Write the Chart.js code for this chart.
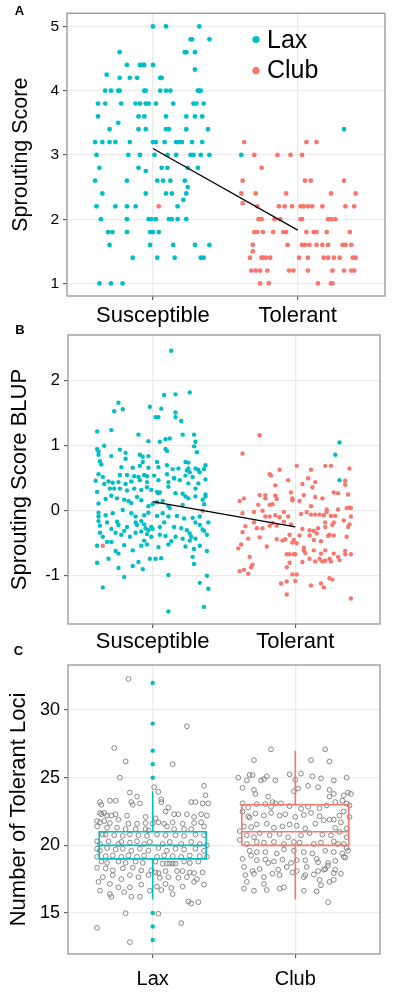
<!DOCTYPE html>
<html><head><meta charset="utf-8">
<script src="https://cdn.jsdelivr.net/npm/chart.js@4.4.1/dist/chart.umd.min.js"></script>
<style>
html,body{margin:0;padding:0;background:#fff;}
body{width:393px;height:995px;position:relative;overflow:hidden;}
canvas{position:absolute;left:0;}
</style></head><body>
<canvas id="cA" width="393" height="330" style="top:0px"></canvas>
<canvas id="cB" width="393" height="342" style="top:318px"></canvas>
<canvas id="cC" width="393" height="357" style="top:638px"></canvas>
<script>
// ---------- categories & ticks ----------
const phenoCats = ["Susceptible", "Tolerant"];
const typeCats = ["Lax", "Club"];
const seriesNames = ["Lax", "Club"];
const yTicksA = [1, 2, 3, 4, 5];
const yTicksB = [-1, 0, 1, 2];
const yTicksC = [15, 20, 25, 30];

// ---------- Panel A: Sprouting Score (x = category position incl. jitter) ----------
const laxScoreA = [
[1.00,5],[1.09,5],[1.32,5],
[1.26,4.8],[1.27,4.8],[1.39,4.8],
[0.77,4.6],[1.22,4.6],[1.23,4.6],[1.29,4.6],
[0.82,4.4],[0.91,4.4],[0.93,4.4],[0.94,4.4],[1.00,4.4],
[1.29,4.33],[0.68,4.25],
[0.77,4.2],[0.84,4.2],[0.89,4.2],[1.05,4.2],[1.06,4.2],
[0.67,4],[0.71,4],[0.76,4],[0.77,4],[0.94,4],[0.95,4],[1.05,4],[1.09,4],[1.12,4],[1.31,4],[1.32,4],[1.33,4],
[0.62,3.8],[0.67,3.8],[0.78,3.8],[0.88,3.8],[0.91,3.8],[0.95,3.8],[0.97,3.8],[1.02,3.8],[1.14,3.8],[1.28,3.8],[1.30,3.8],[1.35,3.8],
[0.62,3.6],[0.90,3.6],[0.94,3.6],[1.09,3.6],[1.23,3.6],[1.29,3.6],[1.34,3.6],
[0.76,3.5],
[0.70,3.4],[0.90,3.4],[0.95,3.4],[1.09,3.4],[1.11,3.4],[1.23,3.4],[1.38,3.4],
[0.60,3.2],[0.65,3.2],[0.70,3.2],[0.74,3.2],[0.84,3.2],[1.00,3.2],[1.02,3.2],[1.08,3.2],[1.16,3.2],[1.18,3.2],[1.20,3.2],[1.27,3.2],[1.34,3.2],
[0.61,3],[0.83,3],[0.91,3],[1.01,3],[1.10,3],[1.16,3],[1.26,3],[1.28,3],[1.33,3],[1.39,3],
[0.63,2.8],[0.90,2.8],[1.06,2.8],[1.10,2.8],[1.24,2.8],[1.31,2.8],
[0.95,2.75],
[0.60,2.6],[0.82,2.6],[1.03,2.6],[1.07,2.6],[1.12,2.6],[1.22,2.6],
[1.24,2.5],
[0.65,2.4],[0.95,2.4],[1.09,2.4],[1.13,2.4],[1.23,2.4],
[1.21,2.3],
[0.61,2.2],[0.74,2.2],[0.82,2.2],[0.88,2.2],[1.17,2.2],
[0.64,2],[0.82,2],[0.97,2],[0.99,2],[1.02,2],[1.11,2],[1.13,2],[1.17,2],[1.23,2],
[0.69,1.8],[0.72,1.8],[0.82,1.8],[0.98,1.8],[1.00,1.8],[1.04,1.8],
[0.70,1.6],[0.98,1.6],[1.14,1.6],[1.29,1.6],[1.39,1.6],
[0.86,1.4],[1.03,1.4],[1.15,1.4],[1.33,1.4],[1.35,1.4],
[0.63,1],[0.71,1],[0.79,1],
[2.32,3.4],[1.61,3.0]
];
const clubScoreA = [
[1.63,3.2],[2.06,3.2],[2.13,3.2],
[1.70,3],[1.86,3],[1.95,3],[2.03,3],
[1.75,2.8],
[1.62,2.6],[2.05,2.6],[2.09,2.6],[2.32,2.6],
[1.61,2.4],[1.71,2.4],[1.92,2.4],[2.23,2.4],[2.40,2.4],
[1.62,2.25],
[1.72,2.2],[1.87,2.2],[1.91,2.2],[1.96,2.2],[2.02,2.2],[2.04,2.2],[2.07,2.2],[2.10,2.2],[2.17,2.2],[2.33,2.2],[2.39,2.2],
[1.73,2],[1.75,2],[1.84,2],[1.88,2],[2.02,2],[2.03,2],[2.21,2],[2.23,2],[2.26,2],
[1.70,1.8],[1.72,1.8],[1.76,1.8],[1.83,1.8],[1.90,1.8],[1.92,1.8],[2.06,1.8],[2.11,1.8],[2.13,1.8],[2.20,1.8],[2.36,1.8],
[1.69,1.6],[1.93,1.6],[2.03,1.6],[2.05,1.6],[2.08,1.6],[2.13,1.6],[2.17,1.6],[2.21,1.6],[2.31,1.6],[2.33,1.6],[2.37,1.6],
[1.69,1.5],
[1.67,1.4],[1.75,1.4],[1.76,1.4],[1.78,1.4],[1.81,1.4],[2.01,1.4],[2.07,1.4],[2.18,1.4],[2.21,1.4],[2.25,1.4],[2.29,1.4],[2.38,1.4],[2.40,1.4],
[1.68,1.2],[1.71,1.2],[1.74,1.2],[1.79,1.2],[1.94,1.2],[1.97,1.2],[2.07,1.2],[2.24,1.2],[2.32,1.2],[2.37,1.2],[2.39,1.2],
[1.74,1],[1.80,1],[2.14,1],[2.23,1],[2.24,1],
[1.04,2.2]
];
const meanLineA = [3.10, 1.83];   // group means: Susceptible, Tolerant

// ---------- Panel B: Sprouting Score BLUP ----------
const laxBlupB = [
[1.13,2.46],[1.26,1.82],[1.16,1.79],[1.08,1.78],[0.76,1.66],[0.73,1.53],[0.79,1.56],
[0.98,1.60],[1.06,1.57],[1.02,1.44],[1.04,1.44],[1.16,1.51],[1.16,1.44],[1.20,1.38],
[0.61,1.22],[0.71,1.24],[0.90,1.17],[1.21,1.17],[1.29,1.17],
[1.12,1.11],[1.09,1.10],[1.05,1.06],[0.97,1.07],[1.30,1.06],[1.29,0.99],
[0.66,1.00],[0.61,0.95],[0.62,0.91],[1.09,0.95],[1.10,0.92],
[0.77,0.94],[0.81,0.89],[0.62,0.86],[0.71,0.84],[0.91,0.86],[0.93,0.83],[0.97,0.84],[1.31,0.90],
[0.63,0.76],[0.64,0.71],[0.81,0.80],[0.93,0.75],[1.03,0.75],[1.23,0.75],[1.25,0.74],[1.37,0.70],[1.36,0.64],[1.10,0.70],
[0.78,0.67],[0.86,0.66],[0.91,0.69],[0.97,0.66],[1.04,0.67],[1.18,0.65],[1.25,0.65],[1.30,0.65],[1.32,0.63],[1.24,0.62],[1.14,0.64],
[0.62,0.56],[0.77,0.55],[0.82,0.55],[0.87,0.53],[0.90,0.52],[0.94,0.55],[0.96,0.53],[1.01,0.54],[1.10,0.56],[1.15,0.50],[1.23,0.54],[1.26,0.59],[1.33,0.59],[1.28,0.52],
[0.60,0.46],[0.65,0.52],[0.66,0.41],[0.69,0.45],[0.72,0.43],[0.76,0.44],[0.81,0.41],[0.85,0.45],[0.91,0.47],[0.96,0.44],[1.04,0.47],[1.11,0.44],[1.11,0.37],[1.15,0.50],[1.19,0.47],[1.25,0.42],[1.32,0.42],[1.37,0.48],
[0.61,0.29],[0.70,0.34],[0.73,0.34],[0.77,0.34],[0.82,0.31],[0.87,0.34],[0.92,0.32],[0.96,0.36],[0.99,0.32],[1.03,0.29],[1.04,0.27],[1.05,0.28],[1.16,0.27],[1.21,0.26],[1.23,0.22],[1.30,0.34],[1.37,0.25],
[0.62,0.11],[0.67,0.18],[0.71,0.23],[0.75,0.19],[0.80,0.17],[0.83,0.15],[0.85,0.12],[0.89,0.21],[0.92,0.16],[0.97,0.07],[1.00,0.10],[1.03,0.13],[1.07,0.15],[1.11,0.07],[1.12,0.04],[1.21,0.09],[1.25,0.19],[1.30,0.22],[1.35,0.17],[1.37,0.22],[1.36,0.10],
[0.62,-0.03],[0.62,-0.09],[0.67,-0.07],[0.72,-0.04],[0.79,0.01],[0.85,-0.04],[0.88,-0.09],[0.94,-0.07],[0.97,-0.03],[1.03,-0.08],[1.07,-0.04],[1.11,-0.09],[1.17,-0.08],[1.22,-0.12],[1.28,-0.11],[1.33,-0.09],[1.39,-0.18],
[0.62,-0.16],[0.63,-0.23],[0.68,-0.18],[0.75,-0.17],[0.76,-0.22],[0.82,-0.25],[0.88,-0.18],[0.89,-0.22],[0.92,-0.16],[0.94,-0.21],[0.95,-0.27],[0.97,-0.30],[0.99,-0.25],[1.00,-0.28],[1.05,-0.25],[1.08,-0.18],[1.15,-0.25],[1.20,-0.27],[1.24,-0.30],[1.26,-0.35],[1.33,-0.22],[1.35,-0.29],[1.36,-0.31],[1.30,-0.18],
[0.63,-0.34],[0.65,-0.40],[0.71,-0.28],[0.74,-0.34],[0.78,-0.37],[0.80,-0.31],[0.84,-0.40],[0.88,-0.34],[0.92,-0.32],[0.96,-0.36],[0.99,-0.40],[1.05,-0.37],[1.09,-0.39],[1.16,-0.40],[1.21,-0.43],[1.27,-0.40],[1.30,-0.43],[1.38,-0.37],
[0.61,-0.54],[0.68,-0.48],[0.71,-0.48],[0.74,-0.62],[0.76,-0.66],[0.80,-0.53],[0.86,-0.61],[0.92,-0.54],[0.94,-0.46],[0.96,-0.52],[1.04,-0.56],[1.11,-0.52],[1.13,-0.47],[1.23,-0.55],[1.26,-0.46],[1.29,-0.59],[1.33,-0.54],[1.38,-0.62],
[0.61,-0.80],[0.69,-0.74],[0.76,-0.88],[0.80,-1.02],[0.86,-0.85],[0.90,-0.79],[0.93,-0.90],[0.98,-0.74],[1.02,-0.74],[1.06,-0.73],[1.11,-0.99],[1.28,-0.71],[1.29,-0.82],[1.33,-1.11],[1.38,-1.00],[1.39,-1.20],[0.65,-1.18],[1.11,-1.55],[1.36,-1.48],
[2.31,1.05],[2.28,0.86],[2.31,0.47]
];
const clubBlupB = [
[1.75,1.16],[1.63,0.88],
[2.01,0.69],[2.11,0.63],[2.21,0.69],[2.25,0.69],[2.38,0.65],[1.89,0.63],[1.82,0.56],[1.83,0.54],
[1.95,0.47],[2.09,0.50],[2.14,0.44],[1.86,0.39],[2.05,0.41],[2.12,0.36],[2.35,0.46],[2.35,0.40],[2.27,0.28],[2.30,0.27],[2.37,0.25],
[1.61,0.15],[1.64,0.19],[1.75,0.24],[1.79,0.24],[1.79,0.19],[1.86,0.23],[1.87,0.18],[1.82,0.09],[1.84,0.10],[1.97,0.28],[1.98,0.19],[1.98,0.16],[2.03,0.15],[2.06,0.24],[2.11,0.07],[2.14,0.21],[2.19,0.19],[2.22,0.02],[2.22,-0.02],[2.30,0.02],[2.36,0.04],[2.38,0.05],
[1.63,-0.04],[1.74,0.09],[1.71,-0.02],[1.77,0],[1.79,-0.09],[1.82,-0.09],[1.86,-0.07],[1.92,-0.02],[1.89,-0.10],[1.95,-0.09],[2.04,-0.05],[2.08,-0.02],[2.11,-0.06],[2.14,-0.06],[2.17,-0.06],[2.20,-0.07],[2.25,-0.08],[2.28,-0.08],[2.34,-0.15],[2.39,-0.09],[2.39,0.04],
[1.65,-0.24],[1.71,-0.18],[1.73,-0.27],[1.77,-0.27],[1.82,-0.23],[1.84,-0.19],[1.87,-0.23],[1.92,-0.17],[1.97,-0.21],[2.05,-0.28],[2.10,-0.30],[2.13,-0.31],[2.16,-0.27],[2.15,-0.35],[2.21,-0.18],[2.21,-0.25],[2.26,-0.22],[2.27,-0.18],[2.37,-0.25],[2.38,-0.21],
[1.63,-0.33],[1.67,-0.43],[1.75,-0.41],[1.87,-0.44],[1.91,-0.46],[1.93,-0.44],[1.96,-0.37],[1.99,-0.45],[2.03,-0.38],[2.10,-0.38],[2.13,-0.45],[2.18,-0.47],[2.23,-0.39],[2.24,-0.37],[2.27,-0.38],[2.36,-0.40],
[1.60,-0.58],[1.62,-0.52],[1.80,-0.55],[1.98,-0.49],[2.01,-0.50],[2.06,-0.57],[2.06,-0.61],[2.07,-0.65],[2.13,-0.61],[2.18,-0.66],[2.21,-0.61],[2.27,-0.66],[2.30,-0.71],[2.35,-0.62],[2.35,-0.67],[2.39,-0.67],
[1.94,-0.67],[1.96,-0.67],[1.99,-0.67],[2.00,-0.67],[2.10,-0.74],[2.14,-0.78],[2.17,-0.74],[2.19,-0.78],[2.21,-0.77],[2.24,-0.74],[2.25,-0.78],[2.31,-0.76],[1.68,-0.71],[1.96,-0.80],[1.94,-0.87],[2.05,-0.79],
[1.61,-0.93],[1.64,-0.91],[1.70,-0.83],[1.69,-0.87],[1.67,-0.97],[1.98,-0.98],[2.01,-0.98],[1.90,-1.12],[1.94,-1.09],[2.00,-1.08],[2.11,-1.15],[2.18,-1.12],[2.20,-1.18],[2.24,-1.04],[2.26,-1.06],[1.94,-1.29],[2.39,-1.35],
[0.65,-0.54],[1.35,0.00]
];
const meanLineB = [0.14, -0.25];

// ---------- Panel C: Number of Tolerant Loci ----------
const laxLociC = [
[0.83,32.3],[0.73,27.2],[0.81,26.2],[1.14,26.0],[1.24,28.8],[0.77,25.0],[1.01,24.3],[1.04,23.95],[0.84,23.9],[0.89,23.6],[1.36,24.4],[1.37,23.7],
[0.63,23.2],[0.64,23.0],[0.70,23.3],[0.74,23.3],[0.85,23.2],[0.86,23.0],[0.91,23.1],[1.06,23.4],[1.06,23.2],[1.11,22.8],[1.15,22.3],[1.18,22.3],[1.27,23.2],[1.30,23.2],[1.35,23.1],[1.39,23.1],
[0.63,22.4],[0.64,22.3],[0.66,22.4],[0.68,22.2],[0.71,22.2],[0.74,22.3],[0.82,22.2],[0.95,22.1],[1.02,22.0],[1.09,22.5],[1.24,22.3],[1.29,22.1],[1.34,22.3],[1.38,22.2],
[0.61,21.8],[0.63,21.7],[0.66,21.8],[0.70,21.65],[0.76,21.9],[0.83,21.6],[0.89,21.6],[0.95,21.65],[1.00,21.6],[1.04,21.7],[1.08,21.6],[1.14,21.7],[1.21,21.6],[1.29,21.65],[1.34,21.7],
[0.61,21.4],[0.68,21.3],[0.75,21.3],[0.81,21.2],[0.88,21.2],[0.95,21.2],[0.97,21.1],[1.10,21.4],[1.15,21.2],[1.22,21.2],[1.27,21.2],[1.36,21.4],
[0.65,20.8],[0.67,20.8],[0.73,20.75],[0.79,20.7],[0.84,20.8],[0.90,20.75],[0.96,20.7],[1.03,20.8],[1.09,20.75],[1.16,20.75],[1.22,20.7],[1.30,20.8],[1.36,20.75],
[0.61,20.3],[0.63,20.1],[0.69,20.3],[0.76,20.1],[0.78,20.25],[0.84,20.2],[0.89,20.3],[0.94,20.1],[0.98,20.25],[1.07,20.1],[1.12,20.25],[1.20,20.1],[1.27,20.25],[1.33,20.1],[1.38,20.0],
[0.61,19.75],[0.63,19.6],[0.68,19.8],[0.74,19.7],[0.79,19.75],[0.85,19.6],[0.91,19.75],[0.97,19.6],[1.04,19.8],[1.10,19.6],[1.16,19.75],[1.22,19.7],[1.30,19.75],[1.36,19.6],
[0.61,19.15],[0.67,19.2],[0.72,19.25],[0.78,19.15],[0.83,19.25],[0.89,19.15],[0.94,19.25],[1.03,19.15],[1.08,19.25],[1.14,19.2],[1.20,19.15],[1.26,19.25],[1.33,19.2],[1.38,19.15],
[0.64,18.8],[0.68,18.7],[0.76,18.8],[0.81,18.7],[0.88,18.8],[0.93,18.7],[1.02,18.8],[1.07,18.65],[1.10,18.65],[1.12,18.65],[1.14,18.65],[1.16,18.65],[1.22,18.8],[1.26,18.7],[1.32,18.8],
[0.61,18.35],[0.67,18.3],[0.72,18.15],[0.79,18.3],[0.86,18.35],[0.92,18.15],[0.99,18.15],[1.02,18.0],[1.04,17.95],[1.09,18.1],[1.17,18.1],[1.21,18.1],[1.26,18.0],[1.29,17.95],[1.35,18.0],
[0.65,17.65],[0.72,17.8],[0.78,17.5],[0.84,17.8],[0.90,17.65],[0.97,17.8],[1.05,17.6],[1.11,17.65],[1.18,17.6],[1.24,17.65],[1.31,17.5],
[0.62,17.3],[0.70,17.15],[0.76,16.9],[0.84,16.9],[0.92,17.1],[1.03,16.95],[1.09,17.15],[1.13,16.85],[1.21,16.95],[1.29,17.3],[1.36,17.1],
[0.63,16.65],[0.70,16.4],[0.71,16.2],[0.80,16.55],[0.85,16.2],[0.91,16.2],[0.98,16.65],[1.06,16.7],[1.14,16.4],[1.25,15.85],[1.27,15.7],[1.32,15.8],
[0.81,14.99],[1.04,14.95],[1.20,14.25],[0.61,13.9],[0.84,12.85]
];
const clubLociC = [
[1.83,27.1],[2.21,27.1],[1.71,26.3],[2.11,26.3],[2.24,26.2],
[1.60,25.0],[1.66,24.8],[1.68,25.2],[1.70,25.2],[1.76,24.8],[1.78,24.9],[1.80,25.1],[1.86,24.8],[1.96,25.25],[2.00,24.85],[2.04,25.3],[2.12,25.1],[2.18,24.95],[2.27,24.8],[2.36,25.0],
[1.63,24.25],[1.71,24.1],[1.72,23.8],[1.81,23.6],[1.84,23.2],[1.86,23.1],[1.99,24.0],[2.02,24.2],[2.09,24.4],[2.16,24.3],[2.24,24.1],[2.24,23.6],[2.27,23.8],[2.34,23.7],[2.37,23.9],[2.39,23.8],
[1.63,23.1],[1.67,22.8],[1.73,23.05],[1.79,23.05],[1.83,22.85],[1.90,23.1],[1.96,22.9],[2.04,22.7],[2.09,22.85],[2.17,22.75],[2.22,22.95],[2.28,23.2],[2.33,23.3],[2.36,23.1],[2.38,22.95],
[1.63,22.5],[1.67,22.15],[1.68,22.05],[1.72,22.35],[1.78,22.2],[1.83,22.4],[1.89,22.2],[1.93,22.3],[2.00,22.1],[2.06,22.25],[2.11,22.4],[2.17,22.15],[2.24,21.9],[2.27,21.9],[2.31,22.2],[2.34,22.5],[2.38,22.1],
[1.64,21.4],[1.69,21.35],[1.73,21.55],[1.80,21.6],[1.85,21.3],[1.91,21.4],[1.96,21.55],[2.01,21.45],[2.07,21.25],[2.14,21.6],[2.20,21.85],[2.28,21.3],[2.32,21.7],[2.36,21.25],
[1.61,21.05],[1.66,20.75],[1.71,20.6],[1.75,20.9],[1.82,20.75],[1.89,20.85],[1.95,20.6],[2.04,20.75],[2.10,20.9],[2.19,20.8],[2.25,20.75],[2.31,21.0],[2.36,20.6],
[1.61,20.4],[1.66,20.1],[1.73,20.25],[1.78,20.2],[1.85,20.25],[1.92,20.1],[1.99,20.25],[2.03,20.2],[2.13,20.1],[2.18,20.2],[2.27,20.3],[2.30,20.1],[2.34,20.1],[2.36,19.8],
[1.68,19.6],[1.73,19.5],[1.79,19.5],[1.87,19.4],[1.92,19.7],[1.99,19.6],[2.06,19.5],[2.12,19.4],[2.21,19.6],[2.27,19.5],[2.33,19.4],[2.37,19.6],
[1.63,19.0],[1.69,19.25],[1.73,18.9],[1.79,18.95],[1.85,18.8],[1.91,18.95],[1.97,18.7],[2.01,18.9],[2.07,18.9],[2.15,19.0],[2.23,18.7],[2.28,18.85],[2.34,19.15],
[1.64,18.4],[1.70,18.1],[1.75,18.25],[1.81,18.7],[1.88,18.2],[1.94,18.4],[2.01,18.1],[2.08,18.4],[2.16,18.75],[2.21,18.25],[2.23,18.5],[2.28,18.2],[2.35,19.1],
[1.65,17.8],[1.71,17.9],[1.78,17.65],[1.84,17.9],[1.89,17.8],[1.98,18.0],[2.06,17.65],[2.13,17.85],[2.16,18.1],[2.20,18.2],[2.27,17.95],[2.32,17.9],
[1.66,17.3],[1.78,17.15],[1.92,16.9],[2.07,17.8],[2.17,17.45],[2.18,17.05],[2.24,17.3],[2.27,17.45],
[1.64,16.8],[1.71,16.65],[1.80,16.7],[1.89,16.8],[2.06,16.65],[2.23,15.8],[2.15,16.6]
];
// box statistics: [lower whisker, Q1, median, Q3, upper whisker]
const laxBox = [16, 19, 20, 21, 24];
const clubBox = [16, 20, 21, 23, 27];
const laxOutliers = [32, 29, 27, 26, 25, 15, 14, 13];

// ---------- styling ----------
const TEAL = '#00BFC4', SALMON = '#F8766D';
const FONT = "'Liberation Sans', Arial, Helvetica, sans-serif";
const GRID = '#EBEBEB';

const toXY = arr => arr.map(p => ({x: p[0], y: p[1]}));

const frameAndLabel = {
  id: 'frameAndLabel',
  afterDraw(chart, args, o) {
    const {ctx, chartArea: a} = chart;
    ctx.save();
    ctx.strokeStyle = '#9c9c9c';
    ctx.lineWidth = 1.4;
    ctx.strokeRect(a.left, a.top, a.right - a.left, a.bottom - a.top);
    ctx.fillStyle = '#000';
    ctx.font = 'bold 13px ' + FONT;
    ctx.textAlign = 'center';
    ctx.textBaseline = 'middle';
    ctx.fillText(o.letter, o.lx, o.ly);
    if (o.legend) {
      chart.data.datasets.forEach(ds => {
        const it = o.legend[ds.label];
        if (!it) return;
        ctx.fillStyle = ds.backgroundColor;
        ctx.beginPath(); ctx.arc(it.dx, it.dy, 3.6, 0, Math.PI * 2); ctx.fill();
        ctx.fillStyle = '#000';
        ctx.font = '25px ' + FONT;
        ctx.textAlign = 'left';
        ctx.fillText(ds.label, it.tx, it.ty);
      });
    }
    ctx.restore();
  }
};

function makeOptions(p) {
  return {
    responsive: false, animation: false, events: [],
    layout: {padding: {left: 0, top: p.padTop, right: p.padRight, bottom: 0}},
    plugins: {
      legend: {display: false}, tooltip: {enabled: false},
      frameAndLabel: {letter: p.letter, lx: p.lx, ly: p.ly, legend: p.legend}
    },
    scales: {
      x: {
        type: 'linear', min: p.xMin, max: p.xMax,
        afterFit: s => { s.height = p.xH; },
        afterBuildTicks: s => { s.ticks = p.xCats.map((c, i) => ({value: i + 1})); },
        ticks: {callback: (v, i) => p.xCats[i], font: {family: FONT, size: p.xFont}, color: '#000',
                padding: p.xPad, maxRotation: 0, autoSkip: false},
        grid: {color: GRID, lineWidth: 1.3, tickLength: 4, tickColor: '#444', tickWidth: 1},
        border: {display: false}
      },
      y: {
        type: 'linear', min: p.yMin, max: p.yMax,
        afterFit: s => { s.width = p.yW; },
        afterBuildTicks: s => { s.ticks = p.yTicks.map(v => ({value: v})); },
        ticks: {callback: v => String(v), font: {family: FONT, size: p.yFont}, color: '#000', padding: 4},
        grid: {color: GRID, lineWidth: 1.3, tickLength: 4, tickColor: '#444', tickWidth: 1},
        border: {display: false},
        title: {display: true, text: p.yTitle, font: {family: FONT, size: p.titleSize}, color: '#000',
                padding: {top: p.titlePad, bottom: 0}}
      }
    }
  };
}

function meanLine(vals) { return vals.map((v, i) => ({x: i + 1, y: v})); }

// ---------- Chart A ----------
new Chart(document.getElementById('cA'), {
  type: 'scatter',
  data: {datasets: [
    {label: 'mean', data: meanLine(meanLineA), showLine: true, borderColor: '#000', borderWidth: 1.2, pointRadius: 0, order: 0},
    {label: seriesNames[0], data: toXY(laxScoreA), backgroundColor: TEAL, borderWidth: 0, pointRadius: 2.4, order: 2},
    {label: seriesNames[1], data: toXY(clubScoreA), backgroundColor: SALMON, borderWidth: 0, pointRadius: 2.4, order: 1}
  ]},
  options: makeOptions({padTop: 10, padRight: 8, xH: 34, yW: 67, xMin: 0.406, xMax: 2.603, yMin: 0.805, yMax: 5.205,
    xCats: phenoCats, yTicks: yTicksA, xFont: 22, xPad: 3, yFont: 15.5, yTitle: 'Sprouting Score', titleSize: 21.5, titlePad: 8,
    letter: 'A', lx: 19.5, ly: 11,
    legend: {Lax: {dx: 256, dy: 39.5, tx: 267, ty: 41}, Club: {dx: 256, dy: 70.7, tx: 267, ty: 71}}}),
  plugins: [frameAndLabel]
});

// ---------- Chart B ----------
new Chart(document.getElementById('cB'), {
  type: 'scatter',
  data: {datasets: [
    {label: 'mean', data: meanLine(meanLineB), showLine: true, borderColor: '#000', borderWidth: 1.2, pointRadius: 0, order: 0},
    {label: seriesNames[0], data: toXY(laxBlupB), backgroundColor: TEAL, borderWidth: 0, pointRadius: 2.2, order: 2},
    {label: seriesNames[1], data: toXY(clubBlupB), backgroundColor: SALMON, borderWidth: 0, pointRadius: 2.2, order: 1}
  ]},
  options: makeOptions({padTop: 17, padRight: 13, xH: 36, yW: 68, xMin: 0.406, xMax: 2.594, yMin: -1.743, yMax: 2.703,
    xCats: phenoCats, yTicks: yTicksB, xFont: 22, xPad: 1, yFont: 16.5, yTitle: 'Sprouting Score BLUP', titleSize: 22, titlePad: 7,
    letter: 'B', lx: 20, ly: 12}),
  plugins: [frameAndLabel]
});

// ---------- Chart C ----------
const BOXW = 0.375;
function boxPath(cx, s) {
  return [
    {x: cx - BOXW, y: s[1]}, {x: cx + BOXW, y: s[1]}, {x: cx + BOXW, y: s[3]}, {x: cx - BOXW, y: s[3]}, {x: cx - BOXW, y: s[1]},
    {x: cx, y: null},
    {x: cx - BOXW, y: s[2]}, {x: cx + BOXW, y: s[2]},
    {x: cx, y: null},
    {x: cx, y: s[3]}, {x: cx, y: s[4]},
    {x: cx, y: null},
    {x: cx, y: s[1]}, {x: cx, y: s[0]}
  ];
}
new Chart(document.getElementById('cC'), {
  type: 'scatter',
  data: {datasets: [
    {label: 'Lax outliers', data: laxOutliers.map(v => ({x: 1, y: v})), backgroundColor: TEAL, borderWidth: 0, pointRadius: 2.2, order: 0},
    {label: 'Lax box', data: boxPath(1, laxBox), showLine: true, spanGaps: false, borderColor: TEAL, borderWidth: 1.6, pointRadius: 0, order: 1},
    {label: 'Club box', data: boxPath(2, clubBox), showLine: true, spanGaps: false, borderColor: SALMON, borderWidth: 1.6, pointRadius: 0, order: 1},
    {label: 'Lax loci', data: toXY(laxLociC), backgroundColor: 'rgba(0,0,0,0)', borderColor: '#7a7a7a', borderWidth: 0.9, pointRadius: 2.4, order: 2},
    {label: 'Club loci', data: toXY(clubLociC), backgroundColor: 'rgba(0,0,0,0)', borderColor: '#7a7a7a', borderWidth: 0.9, pointRadius: 2.4, order: 2}
  ]},
  options: makeOptions({padTop: 27, padRight: 13, xH: 41, yW: 68, xMin: 0.406, xMax: 2.594, yMin: 11.97, yMax: 33.33,
    xCats: typeCats, yTicks: yTicksC, xFont: 20, xPad: 9, yFont: 18, yTitle: 'Number of Tolerant Loci', titleSize: 22, titlePad: 6,
    letter: 'C', lx: 18.5, ly: 13.5}),
  plugins: [frameAndLabel]
});
</script>
</body></html>
